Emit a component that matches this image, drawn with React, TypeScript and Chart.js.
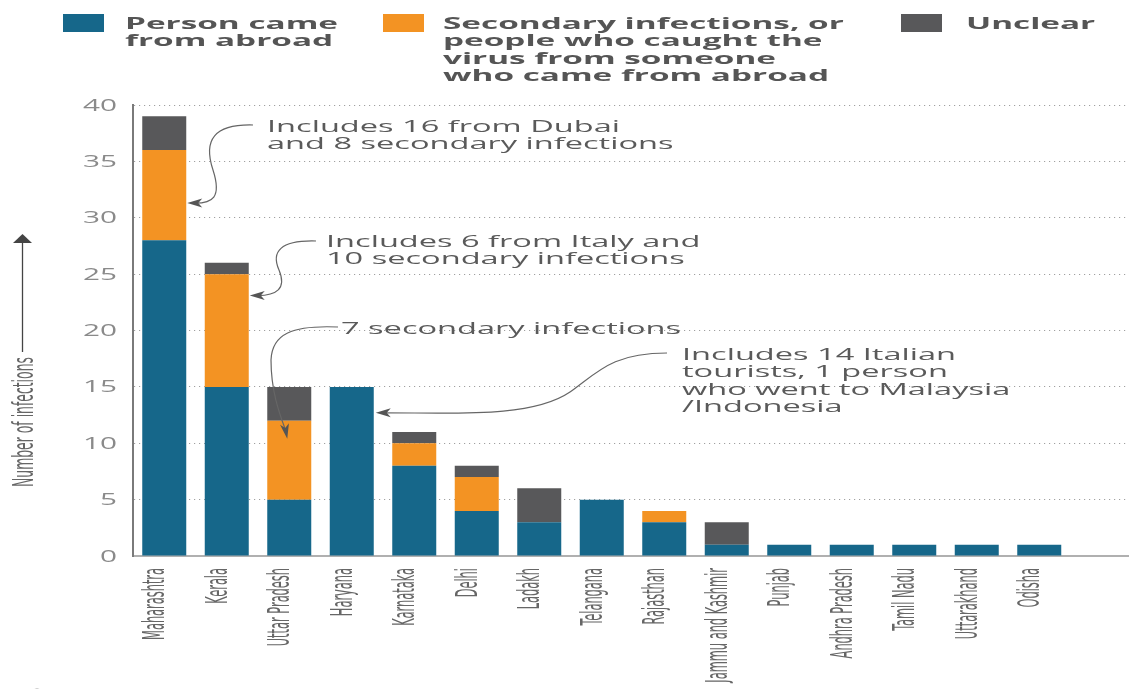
import React, { useEffect, useRef } from "react";
import { Chart, registerables } from "chart.js";

Chart.register(...registerables);

// ---------- data ----------
const states = [
  "Maharashtra",
  "Kerala",
  "Uttar Pradesh",
  "Haryana",
  "Karnataka",
  "Delhi",
  "Ladakh",
  "Telangana",
  "Rajasthan",
  "Jammu and Kashmir",
  "Punjab",
  "Andhra Pradesh",
  "Tamil Nadu",
  "Uttarakhand",
  "Odisha",
];
const fromAbroad = [28, 15, 5, 15, 8, 4, 3, 5, 3, 1, 1, 1, 1, 1, 1];
const secondary = [8, 10, 7, 0, 2, 3, 0, 0, 1, 0, 0, 0, 0, 0, 0];
const unclear = [3, 1, 3, 0, 1, 1, 3, 0, 0, 2, 0, 0, 0, 0, 0];
const yTicks = [0, 5, 10, 15, 20, 25, 30, 35, 40];
const yTitle = "Number of infections";

const legendAbroad = ["Person came", "from abroad"];
const legendSecondary = [
  "Secondary infections, or",
  "people who caught the",
  "virus from someone",
  "who came from abroad",
];
const legendUnclear = ["Unclear"];

const noteDubai = ["Includes 16 from Dubai", "and 8 secondary infections"];
const noteItaly = ["Includes 6 from Italy and", "10 secondary infections"];
const noteUP = ["7 secondary infections"];
const noteHaryana = [
  "Includes 14 Italian",
  "tourists, 1 person",
  "who went to Malaysia",
  "/Indonesia",
];

// ---------- styles ----------
const BLUE = "#16678A";
const ORANGE = "#F39323";
const GREY = "#58585A";
const TEXT = "#555555";
const NARROW = '"Liberation Sans Narrow", "DejaVu Sans Condensed", "Roboto", sans-serif';

function stretchedText(
  ctx: CanvasRenderingContext2D,
  text: string,
  x: number,
  y: number,
  sx: number,
  font: string,
  color: string,
  align: CanvasTextAlign = "left"
) {
  ctx.save();
  ctx.translate(x, y);
  ctx.scale(sx, 1);
  ctx.font = font;
  ctx.fillStyle = color;
  ctx.textAlign = align;
  ctx.textBaseline = "alphabetic";
  ctx.fillText(text, 0, 0);
  ctx.restore();
}

function measure(ctx: CanvasRenderingContext2D, text: string, font: string) {
  ctx.save();
  ctx.font = font;
  const w = ctx.measureText(text).width;
  ctx.restore();
  return w;
}

function fitScale(ctx: CanvasRenderingContext2D, text: string, font: string, target: number) {
  const w = measure(ctx, text, font);
  return w > 0 ? target / w : 1;
}

function arrowHead(ctx: CanvasRenderingContext2D, x: number, y: number, angle: number, color: string) {
  ctx.save();
  ctx.translate(x, y);
  ctx.rotate(angle);
  ctx.fillStyle = color;
  ctx.beginPath();
  ctx.moveTo(0, 0);
  ctx.lineTo(-15, -4.5);
  ctx.lineTo(-11, 0);
  ctx.lineTo(-15, 4.5);
  ctx.closePath();
  ctx.fill();
  ctx.restore();
}

const overlayPlugin = {
  id: "overlay",
  afterDraw(chart: any) {
    const ctx: CanvasRenderingContext2D = chart.ctx;
    const xs = chart.scales.x;
    const ys = chart.scales.y;
    const area = chart.chartArea;

    // y tick labels
    const tickFont = '15.5px "Open Sans"';
    const tickSx = fitScale(ctx, "40", tickFont, 34);
    yTicks.forEach((v) => {
      const py = ys.getPixelForValue(v);
      stretchedText(ctx, String(v), area.left - 16, py + 5.5, tickSx, tickFont, "#8a8a8a", "right");
    });

    // x labels (rotated, condensed & stretched) - size so "Maharashtra" is ~72px long
    const baseXFont = "16px " + NARROW;
    const xSize = (16 * 72) / Math.max(1, measure(ctx, states[0], baseXFont));
    const xFont = xSize.toFixed(2) + "px " + NARROW;
    const xStretch = 31 / xSize;
    states.forEach((s, i) => {
      const px = xs.getPixelForValue(i);
      ctx.save();
      ctx.translate(px, area.bottom + 12);
      ctx.scale(xStretch, 1);
      ctx.rotate(-Math.PI / 2);
      ctx.font = xFont;
      ctx.fillStyle = "#666";
      ctx.textAlign = "right";
      ctx.textBaseline = "alphabetic";
      ctx.fillText(s, 0, 0);
      ctx.restore();
    });

    // y title - ~130px long
    const baseTFont = "16px " + NARROW;
    const tSize = (16 * 130) / Math.max(1, measure(ctx, yTitle, baseTFont));
    ctx.save();
    ctx.translate(33, 422);
    ctx.scale(29 / tSize, 1);
    ctx.rotate(-Math.PI / 2);
    ctx.font = tSize.toFixed(2) + "px " + NARROW;
    ctx.fillStyle = "#666";
    ctx.textAlign = "center";
    ctx.textBaseline = "alphabetic";
    ctx.fillText(yTitle, 0, 0);
    ctx.restore();
    // y title arrow
    ctx.save();
    ctx.strokeStyle = "#444";
    ctx.lineWidth = 1.3;
    ctx.beginPath();
    ctx.moveTo(22.5, 352);
    ctx.lineTo(22.5, 241);
    ctx.stroke();
    ctx.fillStyle = "#444";
    ctx.beginPath();
    ctx.moveTo(22.5, 234);
    ctx.lineTo(13, 243);
    ctx.lineTo(32, 243);
    ctx.closePath();
    ctx.fill();
    ctx.restore();

    // legend
    const legFont = 'bold 16px "Open Sans"';
    const legSx = fitScale(ctx, legendAbroad[0], legFont, 213);
    const legLH = 17.5;
    const legends = [
      { color: BLUE, box: 63, text: 125, lines: legendAbroad },
      { color: ORANGE, box: 383, text: 443, lines: legendSecondary },
      { color: GREY, box: 901, text: 966, lines: legendUnclear },
    ];
    legends.forEach((l) => {
      ctx.fillStyle = l.color;
      ctx.fillRect(l.box, 14, 41, 18);
      l.lines.forEach((t, k) => {
        stretchedText(ctx, t, l.text, 28.5 + k * legLH, legSx, legFont, TEXT);
      });
    });

    // annotations
    const noteFont = '16.5px "Open Sans"';
    const noteSx = fitScale(ctx, noteDubai[0], noteFont, 353);
    const noteLH = 17.3;
    const drawNote = (lines: string[], x: number, y: number) =>
      lines.forEach((t, k) => stretchedText(ctx, t, x, y + k * noteLH, noteSx, noteFont, "#5a5a5a"));

    drawNote(noteDubai, 267, 132);
    drawNote(noteItaly, 326, 247);
    drawNote(noteUP, 341, 334);
    drawNote(noteHaryana, 682, 360);

    const barRight = (ds: number, i: number) => {
      const el = chart.getDatasetMeta(ds).data[i];
      return el.x + el.width / 2;
    };

    ctx.save();
    ctx.strokeStyle = "#666";
    ctx.lineWidth = 1.2;

    // Maharashtra
    {
      const tx = barRight(1, 0) + 1;
      const ty = ys.getPixelForValue(31.3);
      ctx.beginPath();
      ctx.moveTo(253, 125);
      ctx.bezierCurveTo(214, 124, 203, 140, 213, 170);
      ctx.bezierCurveTo(222, 198, 212, ty, tx + 8, ty);
      ctx.stroke();
      arrowHead(ctx, tx, ty, Math.PI, "#555");
    }
    // Kerala
    {
      const tx = barRight(1, 1) + 1;
      const ty = ys.getPixelForValue(23.1);
      ctx.beginPath();
      ctx.moveTo(316, 241);
      ctx.bezierCurveTo(280, 240, 271, 252, 279, 270);
      ctx.bezierCurveTo(287, 289, 276, ty, tx + 8, ty);
      ctx.stroke();
      arrowHead(ctx, tx, ty, Math.PI, "#555");
    }
    // Uttar Pradesh
    {
      const tx = xs.getPixelForValue(2) - 2;
      const ty = ys.getPixelForValue(10.4);
      ctx.beginPath();
      ctx.moveTo(338, 327);
      ctx.bezierCurveTo(292, 325, 272, 334, 271, 360);
      ctx.bezierCurveTo(271, 392, 280, 415, tx - 1.5, ty - 8);
      ctx.stroke();
      arrowHead(ctx, tx, ty, Math.atan2(8, 1.5), "#555");
    }
    // Haryana
    {
      const tx = barRight(0, 3) + 2;
      const ty = ys.getPixelForValue(12.7);
      ctx.beginPath();
      ctx.moveTo(667, 353);
      ctx.bezierCurveTo(612, 353, 598, 372, 570, 392);
      ctx.bezierCurveTo(532, 418, 455, ty, tx + 8, ty);
      ctx.stroke();
      arrowHead(ctx, tx, ty, Math.PI, "#555");
    }
    ctx.restore();

    // partial icon at bottom-left
    ctx.save();
    ctx.strokeStyle = "#333";
    ctx.lineWidth = 2.5;
    ctx.beginPath();
    ctx.arc(37, 702, 12, 0, Math.PI * 2);
    ctx.stroke();
    ctx.restore();
  },
};

export default function App() {
  const ref = useRef<HTMLCanvasElement | null>(null);

  useEffect(() => {
    if (!ref.current) return;
    const labels = [...states, ""];
    const chart = new Chart(ref.current, {
      type: "bar",
      data: {
        labels,
        datasets: [
          { label: "Person came from abroad", data: fromAbroad, backgroundColor: BLUE, borderWidth: 0 },
          { label: "Secondary infections", data: secondary, backgroundColor: ORANGE, borderWidth: 0 },
          { label: "Unclear", data: unclear, backgroundColor: GREY, borderWidth: 0 },
        ],
      },
      options: {
        responsive: false,
        devicePixelRatio: 1,
        animation: false,
        events: [],
        layout: { padding: { top: 105, left: 0, right: 0, bottom: 0 } },
        datasets: { bar: { barPercentage: 0.704, categoryPercentage: 1 } },
        plugins: { legend: { display: false }, tooltip: { enabled: false } },
        scales: {
          x: {
            stacked: true,
            grid: { display: false },
            ticks: { display: false },
            border: { display: true, color: "#b0b0b0", width: 2 },
            afterFit: (s: any) => {
              s.height = 133;
            },
          },
          y: {
            stacked: true,
            min: 0,
            max: 40,
            ticks: { display: false, stepSize: 5 },
            grid: { color: "#a0a0a0", lineWidth: 1, drawTicks: false },
            border: { display: true, color: "#7a7a7a", width: 2, dash: [1.2, 3.8] },
            afterFit: (s: any) => {
              s.width = 133;
            },
          },
        },
      } as any,
      plugins: [overlayPlugin],
    });
    return () => chart.destroy();
  }, []);

  return (
    <div
      style={{
        position: "fixed",
        left: 0,
        top: 0,
        width: 1129,
        height: 689,
        overflow: "hidden",
        background: "#fff",
      }}
    >
      <canvas ref={ref} width={1133} height={689} style={{ display: "block", width: 1133, height: 689 }} />
    </div>
  );
}
